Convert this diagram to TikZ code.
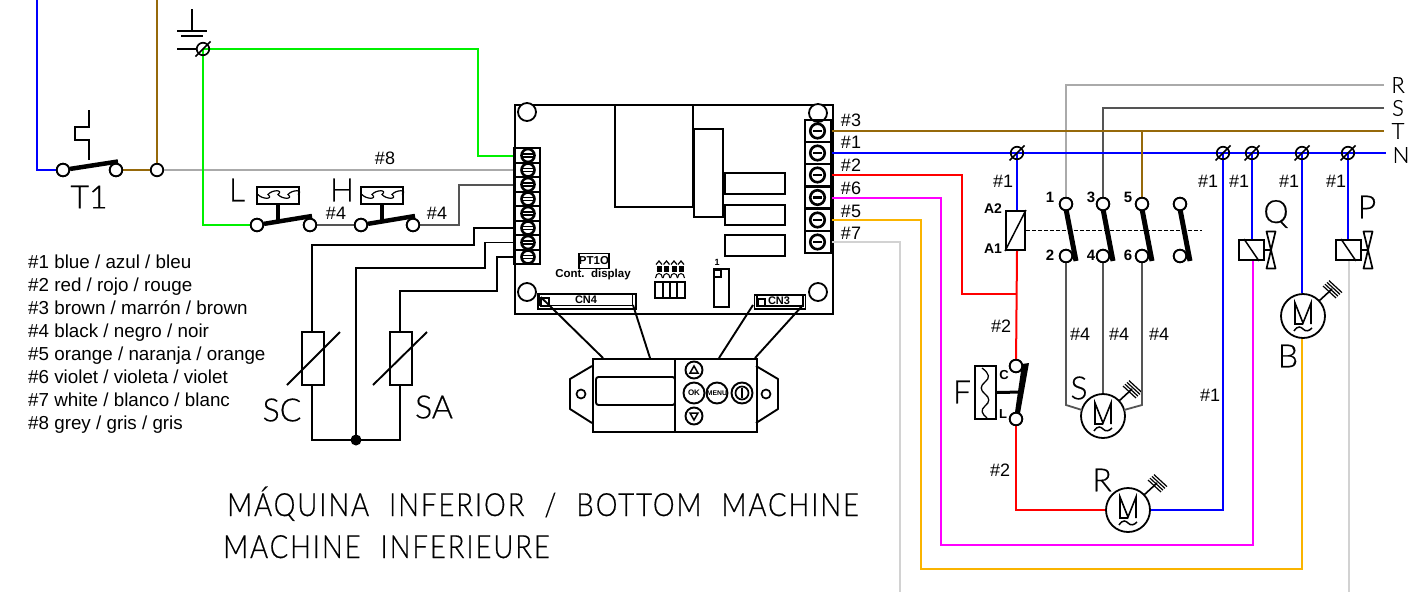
\documentclass[tikz,border=0pt]{standalone}
\usepackage{fontspec}
\setmainfont{Liberation Sans}
\newfontfamily\cadfont[UprightFont={* Light},FakeBold=0.5]{Lato}
\newfontfamily\titlefont[UprightFont={* Light},FakeStretch=0.86,LetterSpace=6,FakeBold=0.5]{Lato}
\usetikzlibrary{calc}
\definecolor{wblue}{RGB}{0,0,255}
\definecolor{wbrown}{RGB}{150,105,10}
\definecolor{wgreen}{RGB}{0,240,0}
\definecolor{wgrey}{RGB}{170,170,170}
\definecolor{wdark}{RGB}{85,85,85}
\definecolor{wred}{RGB}{255,0,0}
\definecolor{wmag}{RGB}{255,0,255}
\definecolor{worange}{RGB}{250,180,0}
\definecolor{wwhite}{RGB}{210,210,210}
\tikzset{
  x=1pt,y=-1pt,
  wire/.style={line width=2pt,line join=miter},
  line/.style={line width=1.9pt,black},
  thick line/.style={line width=2.2pt,black},
  blade/.style={line width=5pt,black},
  term/.style={circle,draw=black,fill=white,line width=1.8pt,minimum size=12.5pt,inner sep=0pt},
  hole/.style={circle,draw=black,fill=white,line width=1.8pt,minimum size=18pt,inner sep=0pt},
  screw/.style={circle,draw=black,fill=white,line width=2.6pt,minimum size=13pt,inner sep=0pt},
  cell/.style={rectangle,draw=black,line width=1.8pt,inner sep=0pt},
  small/.style={inner sep=0pt,font=\fontsize{18}{19}\selectfont},
  big/.style={inner sep=0pt,font=\cadfont\fontsize{32}{33}\selectfont},
  cont/.style={inner sep=0pt,font=\bfseries\fontsize{11.5}{12}\selectfont},
  legend/.style={inner sep=0pt,anchor=base west,font=\fontsize{18.8}{20}\selectfont},
}
\newcommand\motorsym[2]{%
  \node[circle,draw=black,line width=1.8pt,minimum size=44pt,inner sep=0pt] (#1) at (#2) {};
  \draw[line width=1.6pt] ($(#1)+(-8,8)$) -- ($(#1)+(-8,-13)$) -- ($(#1)+(0,7)$) -- ($(#1)+(8,-13)$) -- ($(#1)+(8,8)$);
  \draw[line width=1.6pt] ($(#1)+(-9,8)$) -- ($(#1)+(0,8)$);
  \draw[line width=1.5pt] ($(#1)+(-9,15)$) .. controls ($(#1)+(-5,9)$) and ($(#1)+(-2,11)$) .. ($(#1)+(0,13)$) .. controls ($(#1)+(3,16)$) and ($(#1)+(6,15)$) .. ($(#1)+(9,12)$);
  \draw[line width=1.6pt] ($(#1)+(16,-15)$) -- ($(#1)+(29,-27)$);
  \foreach \d in {0,2,4,6}{\draw[line width=1.2pt] ($(#1)+(20+\d,-30-\d*.9)$) -- ++(13,12);}
}
\newcommand\slashterm[1]{%
  \draw[line width=1.7pt] ($(#1)+(-7.5,7.5)$) -- ($(#1)+(7.5,-7.5)$);
  \node[circle,draw=black,line width=1.7pt,minimum size=12.5pt,inner sep=0pt] at (#1) {};
}
\newcommand\wavebox[2]{% name, center
  \node[rectangle,draw=black,line width=1.9pt,minimum width=42pt,minimum height=17pt,inner sep=0pt] (#1) at (#2) {};
  \draw[line width=1.2pt] ($(#1)+(-20,-1)$) .. controls +(4,5) and +(6,5) .. ++(10,0) .. controls +(4,-5) and +(6,-5) .. ++(10,0) .. controls +(4,5) and +(6,5) .. ++(10,0) .. controls +(4,-5) and +(6,-5) .. ++(10,0);
}
\newcommand\valve[3]{% name, coil center, bowtie x
  \node[rectangle,draw=black,line width=1.9pt,minimum width=25pt,minimum height=20pt,inner sep=0pt] (#1) at (#2) {};
  \draw[line width=1.5pt] (#1.north west) ++(6,0) -- ($(#1.south east)+(-6,0)$);
  \draw[line width=1.9pt] (#1.east) -- (#3,0 |- #1.east);
  \draw[line width=1.7pt,line join=round] ($(#3,0 |- #1.east)+(-4.5,-18.5)$) -- ++(9,0) -- ++(-9,37) -- ++(9,0) -- cycle;
}
\newcommand\btn[3]{\node[circle,draw=black,line width=1.9pt,minimum size=#3,inner sep=0pt] (#1) at (#2) {};}
\begin{document}
\begin{tikzpicture}
\useasboundingbox (0,0) rectangle (1424,592);

% ---------- terminals
\node[term] (t1a) at (63,170) {};
\node[term] (t1b) at (116,170) {};
\node[term] (t1c) at (157,170) {};
\node[term] (la) at (257,225) {};
\node[term] (lb) at (310,225) {};
\node[term] (ha) at (361,225) {};
\node[term] (hb) at (413,225) {};
\coordinate (gnd) at (203,49);
\coordinate (nA) at (1017,153);
\coordinate (nB) at (1223,153);
\coordinate (nC) at (1252,153);
\coordinate (nD) at (1302,153);
\coordinate (nE) at (1348,153);
\coordinate (endR) at (1384,85);
\coordinate (endS) at (1384,108);
\coordinate (endT) at (1384,131);
\coordinate (endN) at (1386,153);
\coordinate (topB) at (37,0);
\coordinate (topT) at (157,0);
\coordinate (botW) at (900,592);
\coordinate (botP) at (1349,592);
\coordinate (tapT) at (1142,131);
\coordinate (redJ) at (1017,294);
\coordinate (cdot) at (356,440);

% ---------- board
\node[rectangle,draw=black,line width=2.2pt,minimum width=318pt,minimum height=209pt,inner sep=0pt,anchor=north west] (board) at (514,104) {};
\foreach \n/\x/\y in {h1/527/112,h2/818/113,h3/527/292,h4/818/292}{\node[hole] (\n) at (\x,\y) {};}
\foreach \i/\y in {1/155.5,2/170,3/184.5,4/199,5/213.5,6/228,7/242.5,8/257}{
  \node[cell,minimum width=26pt,minimum height=14.5pt] (lc\i) at (527,\y) {};
  \node[screw] (ls\i) at (528,\y) {};
  \draw[line width=1.3pt] ($(ls\i)+(-6,-1.5)$) -- ++(12,0) ($(ls\i)+(-6,1.5)$) -- ++(12,0);
}
\foreach \i/\y in {1/131,2/153,3/175,4/197.5,5/220,6/242}{
  \node[cell,minimum width=26pt,minimum height=21.7pt] (rc\i) at (818,\y) {};
  \node[screw,minimum size=14.5pt] (rs\i) at (817.5,\y) {};
  \draw[line width=2.4pt] ($(rs\i)+(-4.5,0)$) -- ++(9,0);
}
\foreach \a/\b in {{615,105}/{693,207},{694,129}/{723,217},{725,173}/{785,194},{725,205}/{785,225},{725,235}/{785,256}}{
  \draw[thick line] (\a) rectangle (\b);
}
\node[rectangle,draw=black,line width=1.8pt,minimum width=30pt,minimum height=15pt,inner sep=0pt,font=\bfseries\fontsize{11.5}{12}\selectfont] (pt) at (594,261) {PT1O};
\node[cont] (contd) at (593,275) {Cont.\ \ display};
\draw[line] (655,282) rectangle (685,298);
\foreach \x in {663,670,677}{\draw[line width=1.6pt] (\x,282) -- (\x,298);}
\foreach \x in {659,666.5,674,681}{
  \draw[line width=1.1pt] (\x-3.5,278) .. controls (\x-3,272) and (\x+3,272) .. (\x+3.5,278);
  \draw[line width=1.2pt] (\x-2.5,267) -- (\x+2.5,267) (\x-2.5,269) -- (\x+2.5,269) (\x-2.5,271) -- (\x+2.5,271);
  \draw[line width=1.2pt] (\x-3,264.5) -- (\x,261) -- (\x+3,264.5);
}
\node[cont,font=\bfseries\fontsize{9}{10}\selectfont] (one) at (717,262) {1};
\draw[line] (714,269) rectangle (729,307);
\draw[line width=1.5pt] (714,270) rectangle (721,277);
% connectors
\node[rectangle,draw=black,line width=1.7pt,minimum width=98pt,minimum height=15pt,inner sep=0pt] (cn4o) at (587,301.5) {};
\node[rectangle,draw=black,line width=1.5pt,minimum width=93pt,minimum height=11pt,inner sep=0pt] (cn4) at (586,300) {};
\node[inner sep=0pt,font=\bfseries\fontsize{11}{12}\selectfont] at (586,300) {CN4};
\draw[line width=1.3pt] (541,298) rectangle (549,306);
\node[rectangle,draw=black,line width=1.7pt,minimum width=51pt,minimum height=14pt,inner sep=0pt] (cn3o) at (780,302) {};
\node[rectangle,draw=black,line width=1.5pt,minimum width=46pt,minimum height=11pt,inner sep=0pt] (cn3) at (780,300.5) {};
\node[inner sep=0pt,font=\bfseries\fontsize{11}{12}\selectfont,fill=white] at (779,301) {CN3};
\draw[line width=1.3pt] (758,299) rectangle (765,306);

% ---------- display
\node[rectangle,draw=black,line width=2.2pt,minimum width=164pt,minimum height=73pt,inner sep=0pt,anchor=north west] (disp) at (592,358) {};
\draw[line width=2.4pt] (675,358) -- (675,431);
\draw[line,rounded corners=2.5pt] (596,377) rectangle (675,405);
\draw[line,line join=round] (592,366) -- (570,379) -- (570,409) -- (592,423);
\draw[line,line join=round] (756,366) -- (778,379) -- (778,409) -- (756,423);
\node[circle,draw=black,line width=1.7pt,minimum size=9pt,inner sep=0pt] (eh1) at (581,394) {};
\node[circle,draw=black,line width=1.7pt,minimum size=9pt,inner sep=0pt] (eh2) at (766,394) {};
\btn{bup}{694,370}{17pt}
\btn{bdn}{694,416}{17pt}
\btn{bok}{694,393}{21pt}
\btn{bmn}{717,393}{21pt}
\btn{bpw}{742,393}{21pt}
\draw[line width=1.5pt] (694,366) -- (690,373) -- (698,373) -- cycle;
\draw[line width=1.5pt] (694,420) -- (690,413) -- (698,413) -- cycle;
\node[inner sep=0pt,font=\bfseries\fontsize{8}{9}\selectfont] at (bok) {OK};
\node[inner sep=0pt,font=\bfseries\fontsize{6.8}{7}\selectfont] at (bmn) {MENU};
\node[circle,draw=black,line width=1.7pt,minimum size=13pt,inner sep=0pt] at (bpw) {};
\draw[line width=2pt] (742,388) -- (742,398);
\draw[line] (cn4.west)++(2,-3) -- (603,358);
\draw[line] (633,305) -- (650,358);
\draw[line] (753,305) -- (719,358);
\draw[line] (803,305) -- (755,358);

% ---------- left side wires
\draw[wire,wblue] (topB) |- (t1a.west);
\draw[wire,wbrown] (t1b) -- (t1c);
\draw[wire,wbrown] (topT) -- (t1c);
\draw[wire,wgrey] (t1c) -- (lc2.west);
\draw[wire,wgreen] (gnd) -- (478,49) |- (lc1.west);
\draw[wire,wgreen] (gnd) |- (la);
\draw[wire,wdark] (lb) -- (ha);
\draw[wire,wdark] (hb) -- (459,225) |- (lc3.west);
% T1
\draw[black,line width=4.5pt] (t1a) -- (118,161.5);
\draw[line] (89,110) -- (89,127) -- (75,127) -- (75,140) -- (89,140) -- (89,160);
\node[term] at (t1a) {};\node[term] at (t1b) {};
\node[big] (t1l) at (89,197) {T1};
% ground
\draw[line] (192,9) -- (192,31) (177,31) -- (207,31) (181,36) -- (203,36);
\draw[line] (177,49) -- (197,49);
\slashterm{gnd}
% L, H
\wavebox{lw}{278,195.5}
\wavebox{hw}{382,195.5}
\draw[line width=3.5pt] (lw.south) -- (278,221);
\draw[line width=3.5pt] (hw.south) -- (382,221);
\draw[black,line width=4.5pt] (la) -- (312,216);
\draw[black,line width=4.5pt] (ha) -- (415,216);
\node[term] at (la) {};\node[term] at (lb) {};\node[term] at (ha) {};\node[term] at (hb) {};
\node[big] (ll) at (237,190) {L};
\node[big] (hl) at (342,190) {H};
\node[small] (n41) at (336,213) {\#4};
\node[small] (n42) at (437,213) {\#4};
\node[small] (n8) at (385,158) {\#8};

% ---------- sensors
\node[rectangle,draw=black,line width=2pt,minimum width=22pt,minimum height=53pt,inner sep=0pt] (sc) at (313,358.5) {};
\node[rectangle,draw=black,line width=2pt,minimum width=22pt,minimum height=53pt,inner sep=0pt] (sa) at (400.5,358.5) {};
\fill[black] (cdot) circle (5.5pt);
\draw[thick line] (lc6.west) -- (474,228) |- (312,245) -- (sc.north -| 312,0);
\draw[line] (lc7.west) -- (485,242.5) |- (356,268) -- (cdot);
\draw[line] (lc8.west) -- (497,257) |- (400,291) -- (sa.north -| 400,0);
\draw[line] (sc.south -| 312,0) |- (cdot);
\draw[line] (sa.south -| 400,0) |- (cdot);
\draw[line] (287,385) -- (340,332);
\draw[line] (373,385) -- (427,332);
\node[big] (scl) at (282,410) {SC};
\node[big] (sal) at (434,407) {SA};

% ---------- legend
\node[legend] (lg1) at (28,268) {\#1 blue / azul / bleu};
\node[legend] (lg2) at (28,291) {\#2 red / rojo / rouge};
\node[legend] (lg3) at (28,314) {\#3 brown / marrón / brown};
\node[legend] (lg4) at (28,337) {\#4 black / negro / noir};
\node[legend] (lg5) at (28,360) {\#5 orange / naranja / orange};
\node[legend] (lg6) at (28,383) {\#6 violet / violeta / violet};
\node[legend] (lg7) at (28,406) {\#7 white / blanco / blanc};
\node[legend] (lg8) at (28,429) {\#8 grey / gris / gris};

% ---------- right side devices
\node[term] (c1) at (1066,204) {};
\node[term] (c3) at (1103,204) {};
\node[term] (c5) at (1142,204) {};
\node[term] (c7) at (1180,204) {};
\node[term] (c2) at (1066,256) {};
\node[term] (c4) at (1103,256) {};
\node[term] (c6) at (1142,256) {};
\node[term] (c8) at (1180,256) {};
\node[rectangle,draw=black,line width=1.9pt,minimum width=19pt,minimum height=39pt,inner sep=0pt] (km) at (1015.5,230.5) {};
\draw[line width=1.5pt] (km.south west) -- (km.north east);
\node[term] (fc) at (1016,366) {};
\node[term] (fl) at (1016,419) {};
\motorsym{ms}{1103,416}
\motorsym{mr}{1128,510}
\motorsym{mb}{1303,316}
\valve{vq}{1251.5,250}{1271}
\valve{vp}{1348.5,250}{1368}

% ---------- right side wires
\draw[wire,wgrey] (endR) -| (c1);
\draw[wire,wdark] (endS) -| (c3);
\draw[wire,wbrown] (rc1.east) -- (endT);
\draw[wire,wblue] (rc2.east) -- (endN);
\draw[wire,wbrown] (tapT) -- (c5);
\draw[wire,wblue] (nA) -- (km.north -| nA);
\draw[wire,wred] (km.south -| nA) -- (fc);
\draw[wire,wred] (rc3.east) -- (962,175) |- (redJ);
\draw[wire,wred] (fl) |- (mr.west);
\draw[wire,wblue] (nB) |- (mr.east);
\draw[wire,wblue] (nC) -- (vq.north -| nC);
\draw[wire,wblue] (nD) -- (mb.north -| nD);
\draw[wire,wblue] (nE) -- (vp.north -| nE);
\draw[wire,wmag] (rc4.east) -- (941,197.5) |- (1253,545) -- (vq.south -| 1253,0);
\draw[wire,worange] (rc5.east) -- (921,220) |- (1302,569) -- (mb.south -| 1302,0);
\draw[wire,wwhite] (rc6.east) -| (botW);
\draw[wire,wwhite] (vp.south -| botP) -- (botP);
\draw[wire,wdark,line width=1.8pt] (c2) -- (1066,405) -- (1082,410);
\draw[wire,wdark,line width=1.8pt] (c4) -- (ms.north);
\draw[wire,wdark,line width=1.8pt] (c6) -- (1142,405) -- (1124,410);
\foreach \n in {nA,nB,nC,nD,nE}{\slashterm{\n}}

% ---------- contactor
\draw[blade] (1066,209) -- (1076,261);
\draw[blade] (1103,209) -- (1113,261);
\draw[blade] (1142,209) -- (1152,261);
\draw[blade] (1180,209) -- (1190,261);
\foreach \n in {c1,c2,c3,c4,c5,c6,c7,c8}{\node[term] at (\n) {};}
\draw[line width=1.5pt,dashed,dash pattern=on 4pt off 2pt] (km.east) -- (1202,230.5);
\foreach \n/\t/\x/\y in {q1/1/1050/197,q3/3/1091/197,q5/5/1128/197,q2/2/1050/255,q4/4/1091/255,q6/6/1128/255}{
  \node[inner sep=0pt,font=\bfseries\fontsize{15}{16}\selectfont] (\n) at (\x,\y) {\t};
}
\node[inner sep=0pt,font=\bfseries\fontsize{14}{15}\selectfont] (a2) at (993,209) {A2};
\node[inner sep=0pt,font=\bfseries\fontsize{14}{15}\selectfont] (a1) at (993,249) {A1};

% ---------- F
\node[rectangle,draw=black,line width=1.9pt,minimum width=21pt,minimum height=53pt,inner sep=0pt] (fb) at (985.5,392.5) {};
\draw[line width=1.3pt] (982,368) .. controls (990,374) and (990,378) .. (985,382) .. controls (980,386) and (980,390) .. (985,394) .. controls (990,398) and (990,402) .. (985,406) .. controls (980,410) and (982,414) .. (987,418);
\fill[black] (1022,364) -- (1029,363) -- (1019,419) -- (1014,419) -- cycle;
\draw[line width=3pt] (fb.east) -- (1022,392);
\node[term] at (fc) {};\node[term] at (fl) {};
\node[inner sep=0pt,font=\bfseries\fontsize{13}{14}\selectfont] (fcl) at (1004,375) {C};
\node[inner sep=0pt,font=\bfseries\fontsize{13}{14}\selectfont] (fll) at (1003,414) {L};

% ---------- labels right
\foreach \n/\t/\y in {w3/3/120,w1/1/142,w2/2/165,w6/6/188,w5/5/211,w7/7/233}{\node[small] (\n) at (851,\y) {\#\t};}
\foreach \n/\t/\x/\y in {a/1/1003/181,b/1/1208/181,c/1/1239/181,d/1/1289/181,e/1/1336/181,f/1/1210/395,g/2/1001/326,h/2/1000/470,i/4/1080/334,j/4/1119/334,k/4/1159/334}{
  \node[small] (lb\n) at (\x,\y) {\#\t};
}
\foreach \n/\t/\x/\y in {lR/R/1398/85,lS/S/1398/108,lT/T/1398/131,lN/N/1401/155}{
  \node[inner sep=0pt,font=\cadfont\fontsize{22}{23}\selectfont] (\n) at (\x,\y) {\t};
}
\node[big] (lq) at (1276,214) {Q};
\node[big] (lp) at (1367,207) {P};
\node[big] (lbb) at (1288,356) {B};
\node[big] (lss) at (1079,388) {S};
\node[big] (lrr) at (1102,480) {R};
\node[big] (lff) at (962,392) {F};

% ---------- title
\node[inner sep=0pt,anchor=base west,font=\titlefont\fontsize{32}{33}\selectfont] (tt1) at (227,516) {MÁQUINA\hspace*{20pt}INFERIOR\hspace*{20pt}/\hspace*{20pt}BOTTOM\hspace*{20pt}MACHINE};
\node[inner sep=0pt,anchor=base west,font=\titlefont\fontsize{32}{33}\selectfont] (tt2) at (223,558) {MACHINE\hspace*{20pt}INFERIEURE};
\end{tikzpicture}
\end{document}
